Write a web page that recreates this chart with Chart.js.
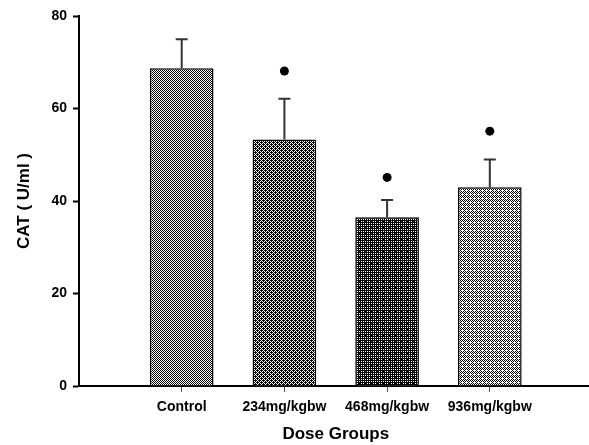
<!DOCTYPE html>
<html>
<head>
<meta charset="utf-8">
<script src="https://cdn.jsdelivr.net/npm/chart.js@4"></script>
<style>
html,body{margin:0;padding:0;background:#fff;overflow:hidden;}
#wrap{width:589px;height:445px;position:relative;overflow:hidden;}
</style>
</head>
<body>
<div id="wrap"><canvas id="c" width="597" height="445"></canvas></div>
<script>
// ---- data ----
const categories = ['Control', '234mg/kgbw', '468mg/kgbw', '936mg/kgbw'];
const meanValues = [68.7, 53.3, 36.5, 43.0];
const errorUpper = [6.3, 8.8, 3.7, 6.0];
const markerValues = [null, 68.1, 45.1, 55.1];
const yTicks = [0, 20, 40, 60, 80];
const xTitle = 'Dose Groups';
const yTitle = 'CAT ( U/ml )';

// ---- patterns ----
function makePattern(size, blackCells) {
  const c = document.createElement('canvas');
  c.width = size; c.height = size;
  const g = c.getContext('2d');
  g.fillStyle = '#fff'; g.fillRect(0, 0, size, size);
  g.fillStyle = '#000';
  blackCells.forEach(([x, y]) => g.fillRect(x, y, 1, 1));
  return g.createPattern(c, 'repeat');
}
function cells(size, fn) {
  const out = [];
  for (let y = 0; y < size; y++) for (let x = 0; x < size; x++) if (fn(x, y)) out.push([x, y]);
  return out;
}
const ctx = document.getElementById('c').getContext('2d');
const patterns = [
  makePattern(2, cells(2, (x, y) => (x + y) % 2 === 0)),
  makePattern(4, cells(4, (x, y) => (x + y) % 2 === 0 || (x === 1 && y === 2) || (x === 3 && y === 0))),
  makePattern(6, cells(6, (x, y) => !(x % 2 === 1 && y % 2 === 1) || (x === 5 && y === 5))),
  makePattern(4, cells(4, (x, y) => (x + y) % 2 === 0 && !(x === 2 && y === 2)))
];

const labels = [''].concat(categories, ['']);
const barData = [null].concat(meanValues, [null]);
const dotData = [null].concat(markerValues, [null]);
const bgColors = [null].concat(patterns, [null]);

const FONT = 'Liberation Sans, Arial, Helvetica, sans-serif';

const errorBarPlugin = {
  id: 'errorBars',
  afterDatasetsDraw(chart) {
    const xs = chart.scales.x, ys = chart.scales.y;
    const g = chart.ctx;
    g.save();
    g.strokeStyle = '#333';
    g.lineWidth = 2;
    meanValues.forEach((m, i) => {
      const x = xs.getPixelForValue(i + 1);
      const y0 = ys.getPixelForValue(m);
      const y1 = ys.getPixelForValue(m + errorUpper[i]);
      g.beginPath();
      g.moveTo(x, y0); g.lineTo(x, y1);
      g.moveTo(x - 6, y1); g.lineTo(x + 6, y1);
      g.stroke();
    });
    g.restore();
  }
};

new Chart(ctx, {
  type: 'bar',
  data: {
    labels: labels,
    datasets: [
      {
        type: 'line',
        data: dotData,
        showLine: false,
        pointRadius: 4.5,
        pointBackgroundColor: '#000',
        pointBorderColor: '#000',
        pointBorderWidth: 0,
        order: 0
      },
      {
        data: barData,
        backgroundColor: bgColors,
        borderColor: '#000',
        borderWidth: 1.5,
        barPercentage: 0.62,
        categoryPercentage: 1,
        order: 1
      }
    ]
  },
  options: {
    responsive: false,
    animation: false,
    layout: { padding: { top: 16, right: 0, left: 0, bottom: 0 } },
    plugins: { legend: { display: false }, tooltip: { enabled: false } },
    scales: {
      x: {
        offset: false,
        border: { color: '#000', width: 2 },
        grid: {
          offset: false,
          drawOnChartArea: false,
          tickLength: 6,
          tickWidth: 1,
          tickColor: (c) => (c.index === 0 || c.index === labels.length - 1) ? 'rgba(0,0,0,0)' : '#555'
        },
        ticks: {
          color: '#000',
          font: { family: FONT, size: 14, weight: 'bold' },
          padding: 7,
          maxRotation: 0,
          autoSkip: false
        },
        title: {
          display: true,
          text: xTitle,
          color: '#000',
          font: { family: FONT, size: 17, weight: 'bold', lineHeight: 1.2 },
          padding: { top: 0, bottom: 0.5 }
        },
        afterFit(s) { s.height = 59; s.paddingLeft = 0; s.paddingRight = 0; }
      },
      y: {
        min: 0,
        max: 80,
        border: { color: '#000', width: 2 },
        grid: { drawOnChartArea: false, tickLength: 6, tickWidth: 2, tickColor: '#000' },
        afterBuildTicks(s) { s.ticks = yTicks.map(v => ({ value: v })); },
        ticks: {
          color: '#000',
          font: { family: FONT, size: 14, weight: 'bold' },
          padding: 6
        },
        title: {
          display: true,
          text: yTitle,
          color: '#000',
          font: { family: FONT, size: 17, weight: 'bold', lineHeight: 1.2 },
          padding: { top: 14, bottom: 0 }
        },
        afterFit(s) { s.width = 79; }
      }
    }
  },
  plugins: [errorBarPlugin]
});
</script>
</body>
</html>
